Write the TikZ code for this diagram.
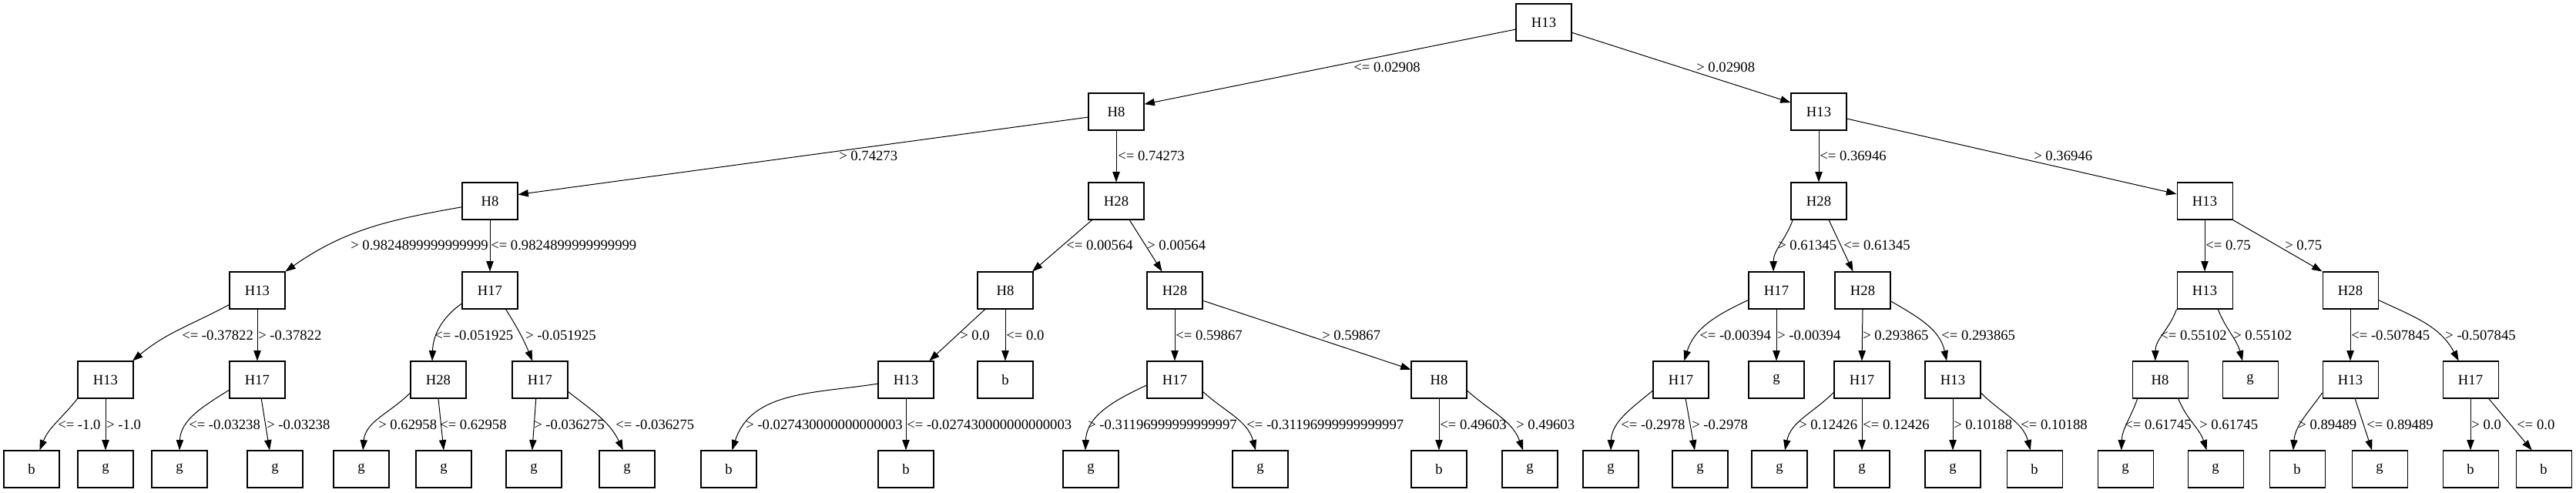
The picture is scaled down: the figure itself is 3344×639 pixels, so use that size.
\documentclass[tikz,border=0pt]{standalone}
\usepackage{fontspec}
\setmainfont{Liberation Serif}
\usetikzlibrary{arrows.meta}
\begin{document}
\begin{tikzpicture}[x=0.75pt,y=0.75pt,
  box/.style={draw, line width=0.8pt, rectangle, minimum width=54pt, minimum height=36pt, inner sep=0pt, font=\fontsize{14}{16}\selectfont},
  edge/.style={draw, line width=0.75pt, -{Triangle[length=10pt,width=7pt]}},
  lbl/.style={anchor=west, inner sep=0pt, font=\fontsize{14}{16}\selectfont}]
\useasboundingbox (0,0) rectangle (3344,-639);
\fill[white] (0,0) rectangle (3344,-639);
% level 0
\node[box] (r) at (2004,-29) {H13};
% level 1
\node[box] (a) at (1449,-145) {H8};
\node[box] (b1) at (2361,-145) {H13};
% level 2
\node[box] (c1) at (636,-261) {H8};
\node[box] (c2) at (1449,-261) {H28};
\node[box] (c3) at (2361,-261) {H28};
\node[box] (c4) at (2862,-261) {H13};
% level 3
\node[box] (d1) at (334,-377) {H13};
\node[box] (d2) at (636,-377) {H17};
\node[box] (d3) at (1305,-377) {H8};
\node[box] (d4) at (1525,-377) {H28};
\node[box] (d5) at (2306,-377) {H17};
\node[box] (d6) at (2418,-377) {H28};
\node[box] (d7) at (2862,-377) {H13};
\node[box] (d8) at (3051,-377) {H28};
% level 4
\node[box] (e1) at (137,-493) {H13};
\node[box] (e2) at (334,-493) {H17};
\node[box] (e3) at (569,-493) {H28};
\node[box] (e4) at (701,-493) {H17};
\node[box] (e5) at (1176,-493) {H13};
\node[box] (e6) at (1305,-493) {b};
\node[box] (e7) at (1525,-493) {H17};
\node[box] (e8) at (1868,-493) {H8};
\node[box] (e9) at (2182,-493) {H17};
\node[box] (e10) at (2306,-493) {g};
\node[box] (e11) at (2417,-493) {H17};
\node[box] (e12) at (2535,-493) {H13};
\node[box] (e13) at (2804,-493) {H8};
\node[box] (e14) at (2921,-493) {g};
\node[box] (e15) at (3051,-493) {H13};
\node[box] (e16) at (3207,-493) {H17};
% level 5
\node[box] (f1) at (41,-609) {b};
\node[box] (f2) at (137,-609) {g};
\node[box] (f3) at (233,-609) {g};
\node[box] (f4) at (357,-609) {g};
\node[box] (f5) at (469,-609) {g};
\node[box] (f6) at (576,-609) {g};
\node[box] (f7) at (693,-609) {g};
\node[box] (f8) at (814,-609) {g};
\node[box] (f9) at (946,-609) {b};
\node[box] (f10) at (1176,-609) {b};
\node[box] (f11) at (1416,-609) {g};
\node[box] (f12) at (1636,-609) {g};
\node[box] (f13) at (1868,-609) {b};
\node[box] (f14) at (1986,-609) {g};
\node[box] (f15) at (2091,-609) {g};
\node[box] (f16) at (2207,-609) {g};
\node[box] (f17) at (2310,-609) {g};
\node[box] (f18) at (2417,-609) {g};
\node[box] (f19) at (2535,-609) {g};
\node[box] (f20) at (2641,-609) {b};
\node[box] (f21) at (2759,-609) {g};
\node[box] (f22) at (2876,-609) {g};
\node[box] (f23) at (2982,-609) {b};
\node[box] (f24) at (3089,-609) {g};
\node[box] (f25) at (3207,-609) {b};
\node[box] (f26) at (3302,-609) {b};
% edges
\draw[edge] (r.194) -- (a.15);
\draw[edge] (r.340) -- (b1.162);
\draw[edge] (a.191) -- (c1.13);
\draw[edge] (a.south) -- (c2.north);
\draw[edge] (b1.south) -- (c3.north);
\draw[edge] (b1.346) -- (c4.166);
\draw[edge] (c1.192) to[out=190,in=35] (d1.34);
\draw[edge] (c1.south) -- (d2.north);
\draw[edge] (c2.218) -- (d3.35);
\draw[edge] (c2.305) -- (d4.124);
\draw[edge] (c3.216) to[out=250,in=90] (d5.99);
\draw[edge] (c3.298) -- (d6.117);
\draw[edge] (c4.south) -- (d7.north);
\draw[edge] (c4.south east) -- (d8.north west);
\draw[edge] (d1.207) to[out=208,in=40] (e1.35);
\draw[edge] (d1.south) -- (e2.north);
\draw[edge] (d2.205) to[out=215,in=88] (e3.108);
\draw[edge] (d2.310) to[out=302,in=112] (e4.112);
\draw[edge] (d3.223) -- (e5.39);
\draw[edge] (d3.south) -- (e6.north);
\draw[edge] (d4.south) -- (e7.north);
\draw[edge] (d4.340) -- (e8.160);
\draw[edge] (d5.199) to[out=205,in=73] (e9.80);
\draw[edge] (d5.south) -- (e10.north);
\draw[edge] (d6.south) -- (e11.north);
\draw[edge] (d6.339) to[out=330,in=102] (e12.108);
\draw[edge] (d7.south west) to[out=250,in=90] (e13.104);
\draw[edge] (d7.305) to[out=292,in=105] (e14.112);
\draw[edge] (d8.south) -- (e15.north);
\draw[edge] (d8.341) to[out=335,in=118] (e16.122);
\draw[edge] (e1.south west) to[out=232,in=68] (f1.67);
\draw[edge] (e1.south) -- (f2.north);
\draw[edge] (e2.200) to[out=212,in=88] (f3.north);
\draw[edge] (e2.282) -- (f4.106);
\draw[edge] (e3.205) to[out=225,in=85] (f5.85);
\draw[edge] (e3.south) -- (f6.north);
\draw[edge] (e4.258) -- (f7.95);
\draw[edge] (e4.337) to[out=322,in=115] (f8.102);
\draw[edge] (e5.188) to[out=189,in=72] (f9.80);
\draw[edge] (e5.south) -- (f10.north);
\draw[edge] (e7.191) to[out=205,in=88] (f11.106);
\draw[edge] (e7.337) to[out=318,in=105] (f12.104);
\draw[edge] (e8.south) -- (f13.north);
\draw[edge] (e8.339) to[out=318,in=110] (f14.110);
\draw[edge] (e9.201) to[out=220,in=88] (f15.north);
\draw[edge] (e9.284) -- (f16.106);
\draw[edge] (e11.204) to[out=225,in=78] (f17.74);
\draw[edge] (e11.south) -- (f18.north);
\draw[edge] (e12.south) -- (f19.north);
\draw[edge] (e12.335) to[out=315,in=105] (f20.102);
\draw[edge] (e13.220) to[out=250,in=88] (f21.102);
\draw[edge] (e13.314) to[out=292,in=108] (f22.115);
\draw[edge] (e15.205) to[out=235,in=85] (f23.102);
\draw[edge] (e15.284) -- (f24.112);
\draw[edge] (e16.south) -- (f25.north);
\draw[edge] (e16.314) -- (f26.122);
% edge labels
\foreach \txt/\lx/\ly [count=\i] in {
  <= 0.02908/1757/87, > 0.02908/2202/87,
  > 0.74273/1089/202, <= 0.74273/1451/202, <= 0.36946/2362/202, > 0.36946/2640/202,
  > 0.9824899999999999/455/318, <= 0.9824899999999999/637/318,
  <= 0.00564/1384/318, > 0.00564/1489/318, > 0.61345/2308/318, <= 0.61345/2393/318,
  <= 0.75/2863/318, > 0.75/2966/318,
  <= -0.37822/236/435, > -0.37822/335/435, <= -0.051925/564/435, > -0.051925/682/435,
  > 0.0/1246/435, <= 0.0/1306/435, <= 0.59867/1526/435, > 0.59867/1716/435,
  <= -0.00394/2206/435, > -0.00394/2307/435, > 0.293865/2418/435, <= 0.293865/2520/435,
  <= 0.55102/2804/435, > 0.55102/2899/435, <= -0.507845/3052/435, > -0.507845/3174/435,
  <= -1.0/75/551, > -1.0/138/551, <= -0.03238/245/551, > -0.03238/346/551,
  > 0.62958/491/551, <= 0.62958/571/551, > -0.036275/693/551, <= -0.036275/799/551,
  > -0.027430000000000003/968/551, <= -0.027430000000000003/1177/551,
  > -0.31196999999999997/1412/551, <= -0.31196999999999997/1618/551,
  <= 0.49603/1869/551, > 0.49603/1968/551, <= -0.2978/2104/551, > -0.2978/2196/551,
  > 0.12426/2335/551, <= 0.12426/2418/551, > 0.10188/2536/551, <= 0.10188/2623/551,
  <= 0.61745/2758/551, > 0.61745/2855/551, > 0.89489/2983/551, <= 0.89489/3072/551,
  > 0.0/3208/551, <= 0.0/3267/551}
  \node[lbl] (L\i) at (\lx,-\ly) {\txt};
\end{tikzpicture}
\end{document}
